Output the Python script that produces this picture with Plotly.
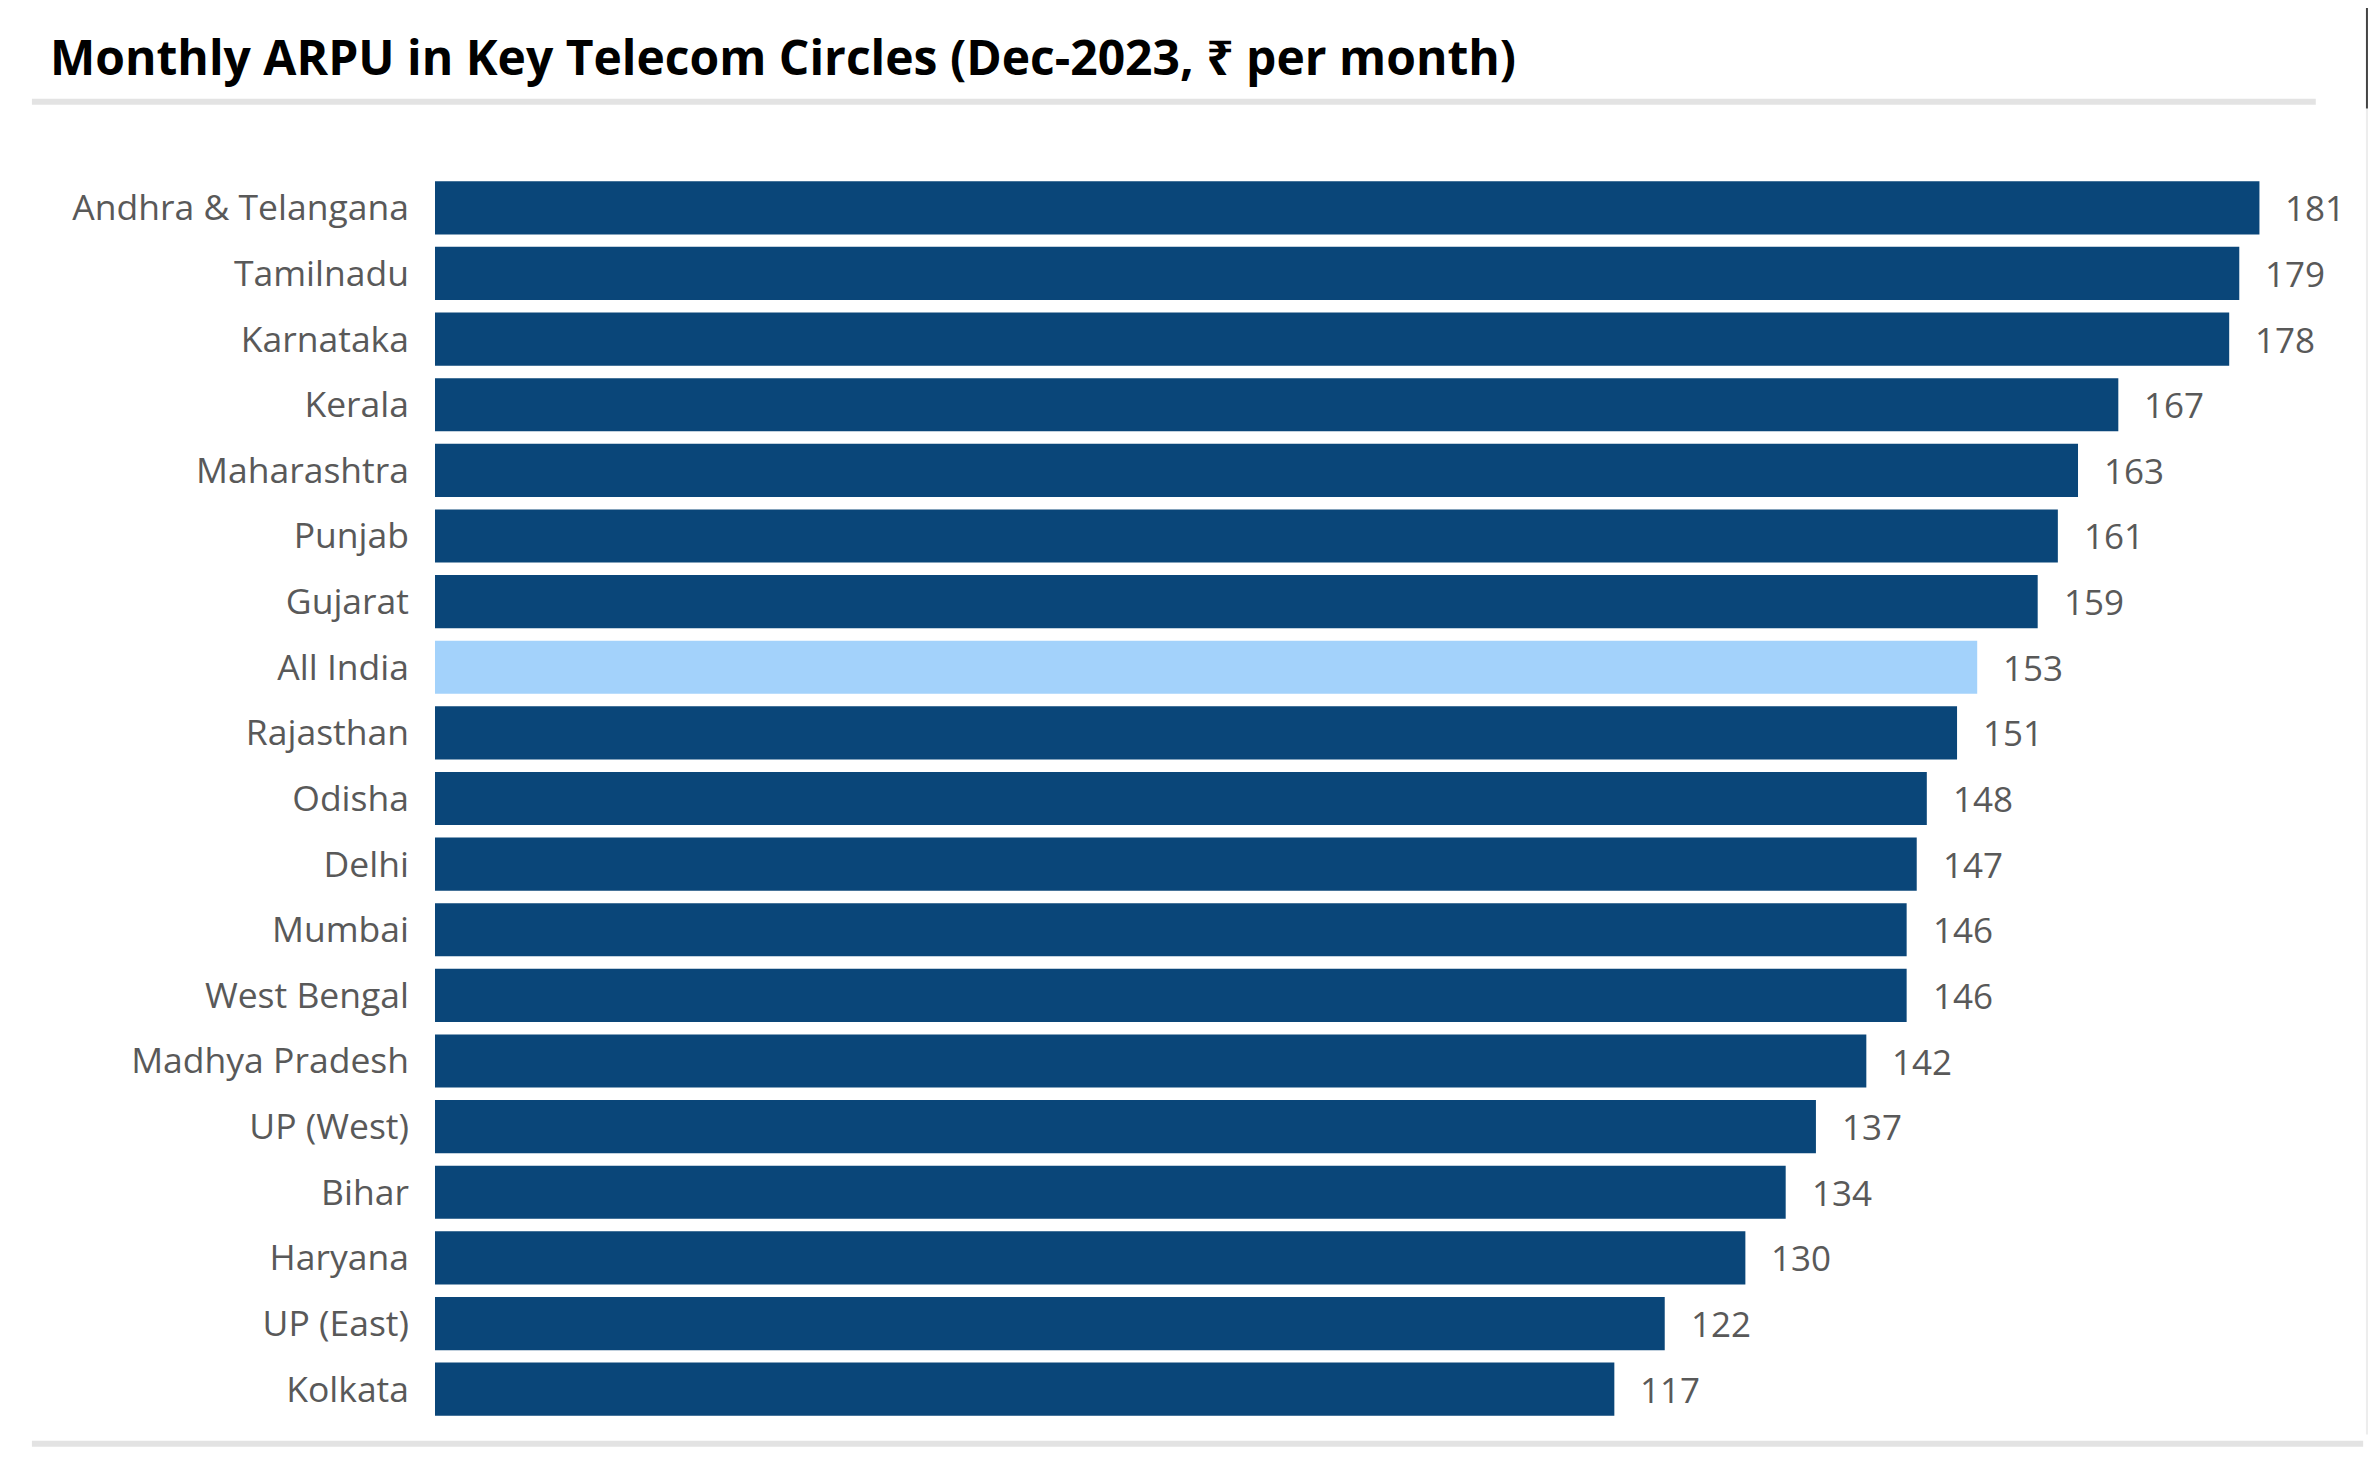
import plotly.graph_objects as go

circles = ["Andhra & Telangana", "Tamilnadu", "Karnataka", "Kerala", "Maharashtra",
           "Punjab", "Gujarat", "All India", "Rajasthan", "Odisha", "Delhi", "Mumbai",
           "West Bengal", "Madhya Pradesh", "UP (West)", "Bihar", "Haryana", "UP (East)", "Kolkata"]
arpu = [181, 179, 178, 167, 163, 161, 159, 153, 151, 148, 147, 146, 146, 142, 137, 134, 130, 122, 117]

DARK = "#0A4679"
LIGHT = "#A3D2FB"
colors = [LIGHT if c == "All India" else DARK for c in circles]

FONT = "Open Sans, Noto Sans, sans-serif"
GRAY = "#595959"

W, H = 2360, 1444

fig = go.Figure()
fig.add_trace(go.Bar(
    x=arpu, y=circles, orientation="h",
    marker=dict(color=colors, line=dict(width=0)),
    hoverinfo="x+y",
))

for c, v in zip(circles, arpu):
    fig.add_annotation(x=v, y=c, text=str(v), showarrow=False, xanchor="left",
                       xshift=24, font=dict(family=FONT, size=35, color=GRAY))

fig.update_layout(
    width=W, height=H,
    margin=dict(l=427, r=38, t=166.5, b=29.5),
    paper_bgcolor="white", plot_bgcolor="white",
    bargap=0.19,
    showlegend=False,
    title=dict(text="<b>Monthly ARPU in Key Telecom Circles (Dec-2023, ₹ per month)</b>",
               x=42/W, xanchor="left", xref="container",
               y=1-50/H, yanchor="middle", yref="container",
               font=dict(family=FONT, size=48, color="#000000")),
    xaxis=dict(range=[0, 188], visible=False, fixedrange=True),
    yaxis=dict(autorange="reversed", showgrid=False, showline=False, zeroline=False,
               ticks="", ticklabelstandoff=25,
               tickfont=dict(family=FONT, size=35.5, color=GRAY)),
    shapes=[
        dict(type="line", xref="paper", yref="paper", x0=-0.2127, x1=0.9925, y0=1.0588, y1=1.0588,
             line=dict(color="#E3E3E3", width=6)),
        dict(type="line", xref="paper", yref="paper", x0=-0.2127, x1=1.0175, y0=-0.0175, y1=-0.0175,
             line=dict(color="#E3E3E3", width=6)),
        dict(type="line", xref="paper", yref="paper", x0=1.0195, x1=1.0195, y0=1.0532, y1=1.14,
             line=dict(color="#444444", width=2)),
        dict(type="line", xref="paper", yref="paper", x0=1.0195, x1=1.0195, y0=-0.01, y1=1.0532,
             line=dict(color="#EDEDED", width=2)),
    ],
)

fig.write_html("out.html")
